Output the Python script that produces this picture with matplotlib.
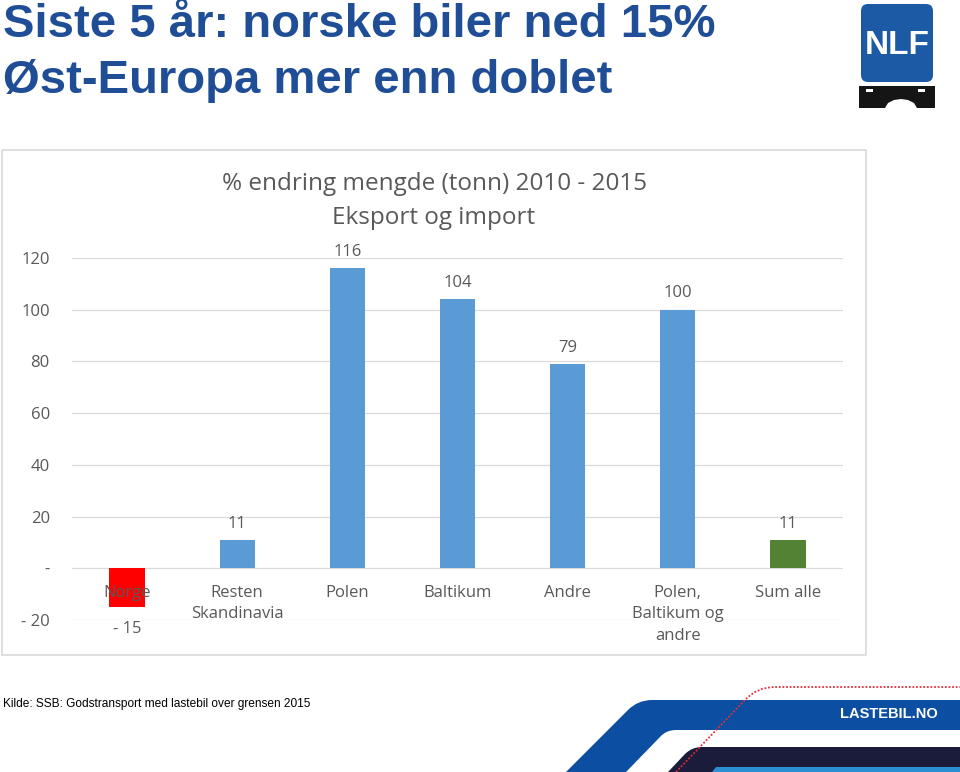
"""
plot.py

% endring mengde (tonn) 2010 - 2015, eksport og import, slide-style.
"""
import matplotlib
matplotlib.use("Agg")
from matplotlib import pyplot as plt
from matplotlib import font_manager
from matplotlib.patches import Rectangle, FancyBboxPatch, PathPatch, Polygon
from matplotlib.path import Path

categories = [
    "Norge",
    "Resten\nSkandinavia",
    "Polen",
    "Baltikum",
    "Andre",
    "Polen,\nBaltikum og\nandre",
    "Sum alle",
]
values = [-15, 11, 116, 104, 79, 100, 11]
bar_colors = ["#FF0000", "#5B9BD5", "#5B9BD5", "#5B9BD5", "#5B9BD5", "#5B9BD5", "#548235"]
y_ticks = [-20, 0, 20, 40, 60, 80, 100, 120]

slide_title = ["Siste 5 år: norske biler ned 15%", "Øst-Europa mer enn doblet"]
chart_title = ["% endring mengde (tonn) 2010 - 2015", "Eksport og import"]
source = "Kilde: SSB: Godstransport med lastebil over grensen 2015"

GREY = "#595959"
GRID = "#D9D9D9"
TITLE_BLUE = "#1F4E96"
CHART_FONT = ["Open Sans", "DejaVu Sans"]

installed = {f.name for f in font_manager.fontManager.ttflist}
NARROW = "Liberation Sans Narrow" if "Liberation Sans Narrow" in installed else "Liberation Sans"


def excel_number(v):
    """Format like the Excel '#,##0;- #,##0;-' number format"""
    if v == 0:
        return "-"
    if v < 0:
        return "- {:d}".format(int(abs(v)))
    return "{:d}".format(int(v))


fig = plt.figure(figsize=(9.6, 7.72), dpi=100)

# background layer in pixel coordinates (y down)
bg = fig.add_axes([0, 0, 1, 1])
bg.set_xlim(0, 960)
bg.set_ylim(772, 0)
bg.axis("off")

# slide title
bg.text(3, 37, slide_title[0], fontsize=34, fontweight="bold",
        family="Liberation Sans", color=TITLE_BLUE, va="baseline")
bg.text(3, 93, slide_title[1], fontsize=34, fontweight="bold",
        family="Liberation Sans", color=TITLE_BLUE, va="baseline")

# NLF logo
bg.add_patch(FancyBboxPatch((861, 4), 72, 78, boxstyle="round,pad=0,rounding_size=7",
                            fc="#1C5AA6", ec="none"))
bg.text(897, 45, "NLF", color="white", fontsize=30 if NARROW != "Liberation Sans" else 24,
        fontweight="bold", family=NARROW, ha="center", va="center")
truck = [(859, 86), (935, 86), (935, 108), (917, 108), (914, 103), (908, 100),
         (901, 99), (894, 100), (888, 103), (885, 108), (859, 108)]
bg.add_patch(Polygon(truck, closed=True, fc="#151515", ec="none"))
bg.add_patch(Rectangle((866, 89), 7, 3, fc="white", ec="none"))
bg.add_patch(Rectangle((918, 89), 7, 3, fc="white", ec="none"))

# chart frame and chart title
bg.add_patch(Rectangle((2, 150), 864, 505, fill=False, ec=GRID, lw=1.2))
bg.text(434, 184, chart_title[0], fontsize=17.5, color=GREY, family=CHART_FONT,
        ha="center", va="center")
bg.text(434, 218, chart_title[1], fontsize=17.5, color=GREY, family=CHART_FONT,
        ha="center", va="center")

# source line
bg.text(3, 704, source, fontsize=8.6, family="Liberation Sans", color="black", va="center")

# bottom right bands
C3, L2 = Path.CURVE3, Path.LINETO
blue_band = Path(
    [(566, 772), (628, 710), (638, 700), (652, 700), (960, 700), (960, 730),
     (676, 730), (666, 730), (660, 737), (626, 772), (566, 772)],
    [Path.MOVETO, L2, C3, C3, L2, L2, L2, C3, C3, L2, Path.CLOSEPOLY],
)
bg.add_patch(PathPatch(blue_band, fc="#0B4EA2", ec="none"))
navy_band = Path(
    [(668, 772), (685, 754), (692, 747), (702, 747), (960, 747), (960, 772), (668, 772)],
    [Path.MOVETO, L2, C3, C3, L2, L2, Path.CLOSEPOLY],
)
bg.add_patch(PathPatch(navy_band, fc="#1B1B3B", ec="none"))
bg.add_patch(Polygon([(712, 772), (716, 767), (960, 767), (960, 772)], closed=True,
                     fc="#2B8FD3", ec="none"))
red_line = Path(
    [(676, 772), (745, 700), (757, 687), (775, 687), (960, 687)],
    [Path.MOVETO, L2, C3, C3, L2],
)
bg.add_patch(PathPatch(red_line, fill=False, ec="#E0303A", lw=1.3, ls=(0, (1, 1))))
bg.text(889, 714, "LASTEBIL.NO", color="white", fontsize=13 if NARROW != "Liberation Sans" else 10.5,
        fontweight="bold", family=NARROW, ha="center", va="center")

# the bar chart
ax = fig.add_axes([72 / 960, 1 - 620 / 772, 771 / 960, 362 / 772])
ax.patch.set_alpha(0)
x = list(range(len(categories)))
ax.bar(x, values, width=0.32, color=bar_colors, zorder=2)
ax.set_xlim(-0.5, len(categories) - 0.5)
ax.set_ylim(-20, 120)
ax.set_yticks(y_ticks)
ax.set_yticklabels([excel_number(t) for t in y_ticks], fontsize=12, color=GREY,
                   family=CHART_FONT)
ax.set_xticks([])
ax.tick_params(axis="y", length=0, pad=16)
ax.set_axisbelow(True)
ax.yaxis.grid(True, color=GRID, lw=0.9)
for side in ax.spines.values():
    side.set_visible(False)

for i, (lbl, v) in enumerate(zip(categories, values)):
    ax.annotate(lbl, (i, 0), xytext=(0, -12), textcoords="offset points",
                ha="center", va="top", fontsize=12, color=GREY, family=CHART_FONT,
                linespacing=1.45, zorder=4, annotation_clip=False)
    ax.annotate(excel_number(v), (i, v), xytext=(0, 6 if v > 0 else -10),
                textcoords="offset points", ha="center",
                va="bottom" if v > 0 else "top", fontsize=12, color=GREY,
                family=CHART_FONT, zorder=4, annotation_clip=False)

plt.savefig("out.png", dpi=100)
